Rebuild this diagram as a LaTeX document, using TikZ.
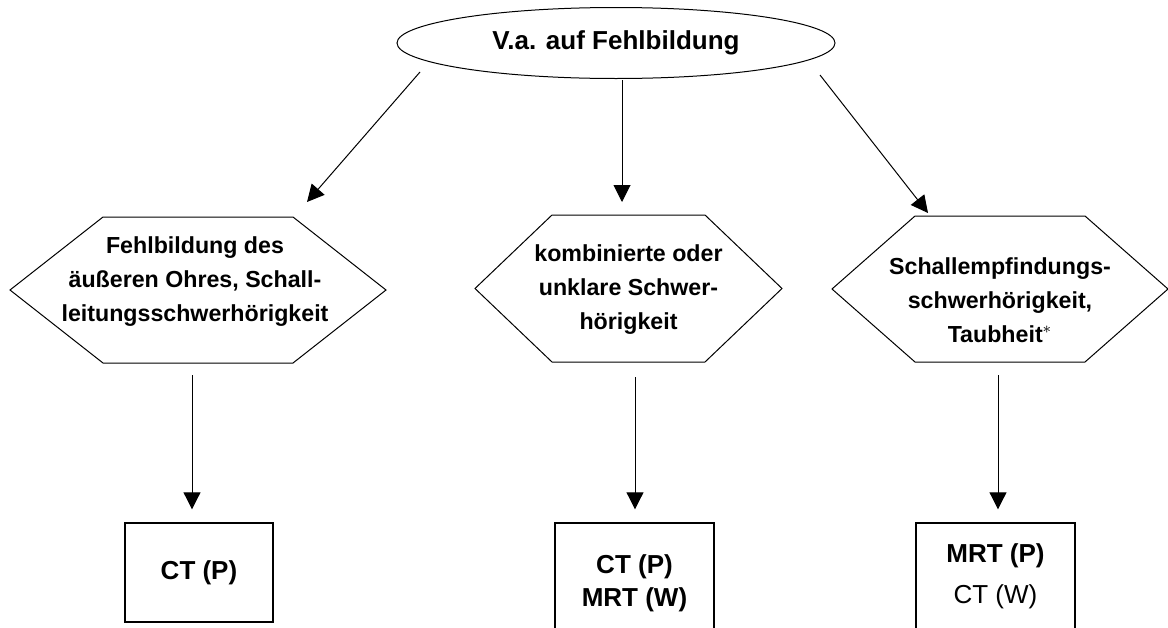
\documentclass[tikz,border=0pt]{standalone}
\usepackage{fontspec}
\setmainfont{Liberation Sans}
\usepackage{tikz}
\usetikzlibrary{shapes.geometric}
\usetikzlibrary{arrows.meta}
% Sechseck um eine Mitte: halbe Breite oben, halbe Hoehe, Spitze
\newcommand{\sechseck}[4]{%
    \draw[line width=0.5pt] ([shift={(-#2,-#3)}]#1) -- ([shift={(#2,-#3)}]#1)
        -- ([shift={(#2+#4,0)}]#1) -- ([shift={(#2,#3)}]#1)
        -- ([shift={(-#2,#3)}]#1) -- ([shift={(-#2-#4,0)}]#1) -- cycle;}
\begin{document}
\begin{tikzpicture}[x=0.5pt, y=-0.5pt,
    oval/.style={draw, ellipse, line width=0.5pt, inner sep=0pt,
        font=\fontsize{13}{15.6}\selectfont\bfseries},
    hexa/.style={rectangle, inner sep=0pt, align=center,
        font=\fontsize{11.6}{17}\selectfont\bfseries},
    bildbox/.style={draw, rectangle, line width=0.7pt, inner sep=0pt,
        align=center, font=\fontsize{13}{16.5}\selectfont\bfseries},
    arr/.style={-{Triangle[width=8.5pt, length=8.5pt]}, line width=0.5pt}]
    \useasboundingbox (0,0) rectangle (1168,627);
    \node[oval, minimum width=219pt, minimum height=35.5pt] (verdacht) at (616,43)
        {V.a. auf Fehlbildung};
    % Mitten der Sechsecke
    \coordinate (aussen) at (198,290);
    \coordinate (kombi) at (628.5,288.5);
    \coordinate (innen) at (1000,289);
    \sechseck{aussen}{95}{73}{93}
    \sechseck{kombi}{76.5}{73.5}{77}
    \sechseck{innen}{85}{73}{83}
    \node[hexa] (aussentext) at ([shift={(-3,-8)}]aussen)
        {Fehlbildung des\\ äußeren Ohres, Schall-\\ leitungsschwerhörigkeit};
    \node[hexa] (kombitext) at ([shift={(0,1)}]kombi)
        {kombinierte oder\\ unklare Schwer-\\ hörigkeit};
    \node[hexa] (innentext) at ([shift={(0,11)}]innen)
        {Schallempfindungs-\\ schwerhörigkeit,\\ Taubheit$^{*}$};
    \node[bildbox, minimum width=74pt, minimum height=49.5pt] (ctlinks) at (199,572.5)
        {CT (P)};
    \node[bildbox, minimum width=79.5pt, minimum height=60pt] (ctmitte) at (634.5,583)
        {CT (P)\\ MRT (W)};
    \node[bildbox, minimum width=79.5pt, minimum height=53pt] (mrtrechts) at (995.5,576)
        {MRT (P)\\[4pt] \mdseries CT (W)};
    % von der Ellipse zu den Sechsecken
    \draw[arr] ([shift={(-196,29)}]verdacht.center) -- ([shift={(109,-88)}]aussen);
    \draw[arr] ([shift={(6,37)}]verdacht.center) -- ([shift={(-6.5,-86.5)}]kombi);
    \draw[arr] ([shift={(204,32)}]verdacht.center) -- ([shift={(-72,-76)}]innen);
    % von den Sechsecken zu den Kaesten
    \draw[arr] ([shift={(-6,85)}]aussen) -- ([shift={(-7,-13)}]ctlinks.north);
    \draw[arr] ([shift={(6.5,88.5)}]kombi) -- ([shift={(0.5,-13)}]ctmitte.north);
    \draw[arr] ([shift={(-2,86)}]innen) -- ([shift={(2.5,-13)}]mrtrechts.north);
\end{tikzpicture}
\end{document}
